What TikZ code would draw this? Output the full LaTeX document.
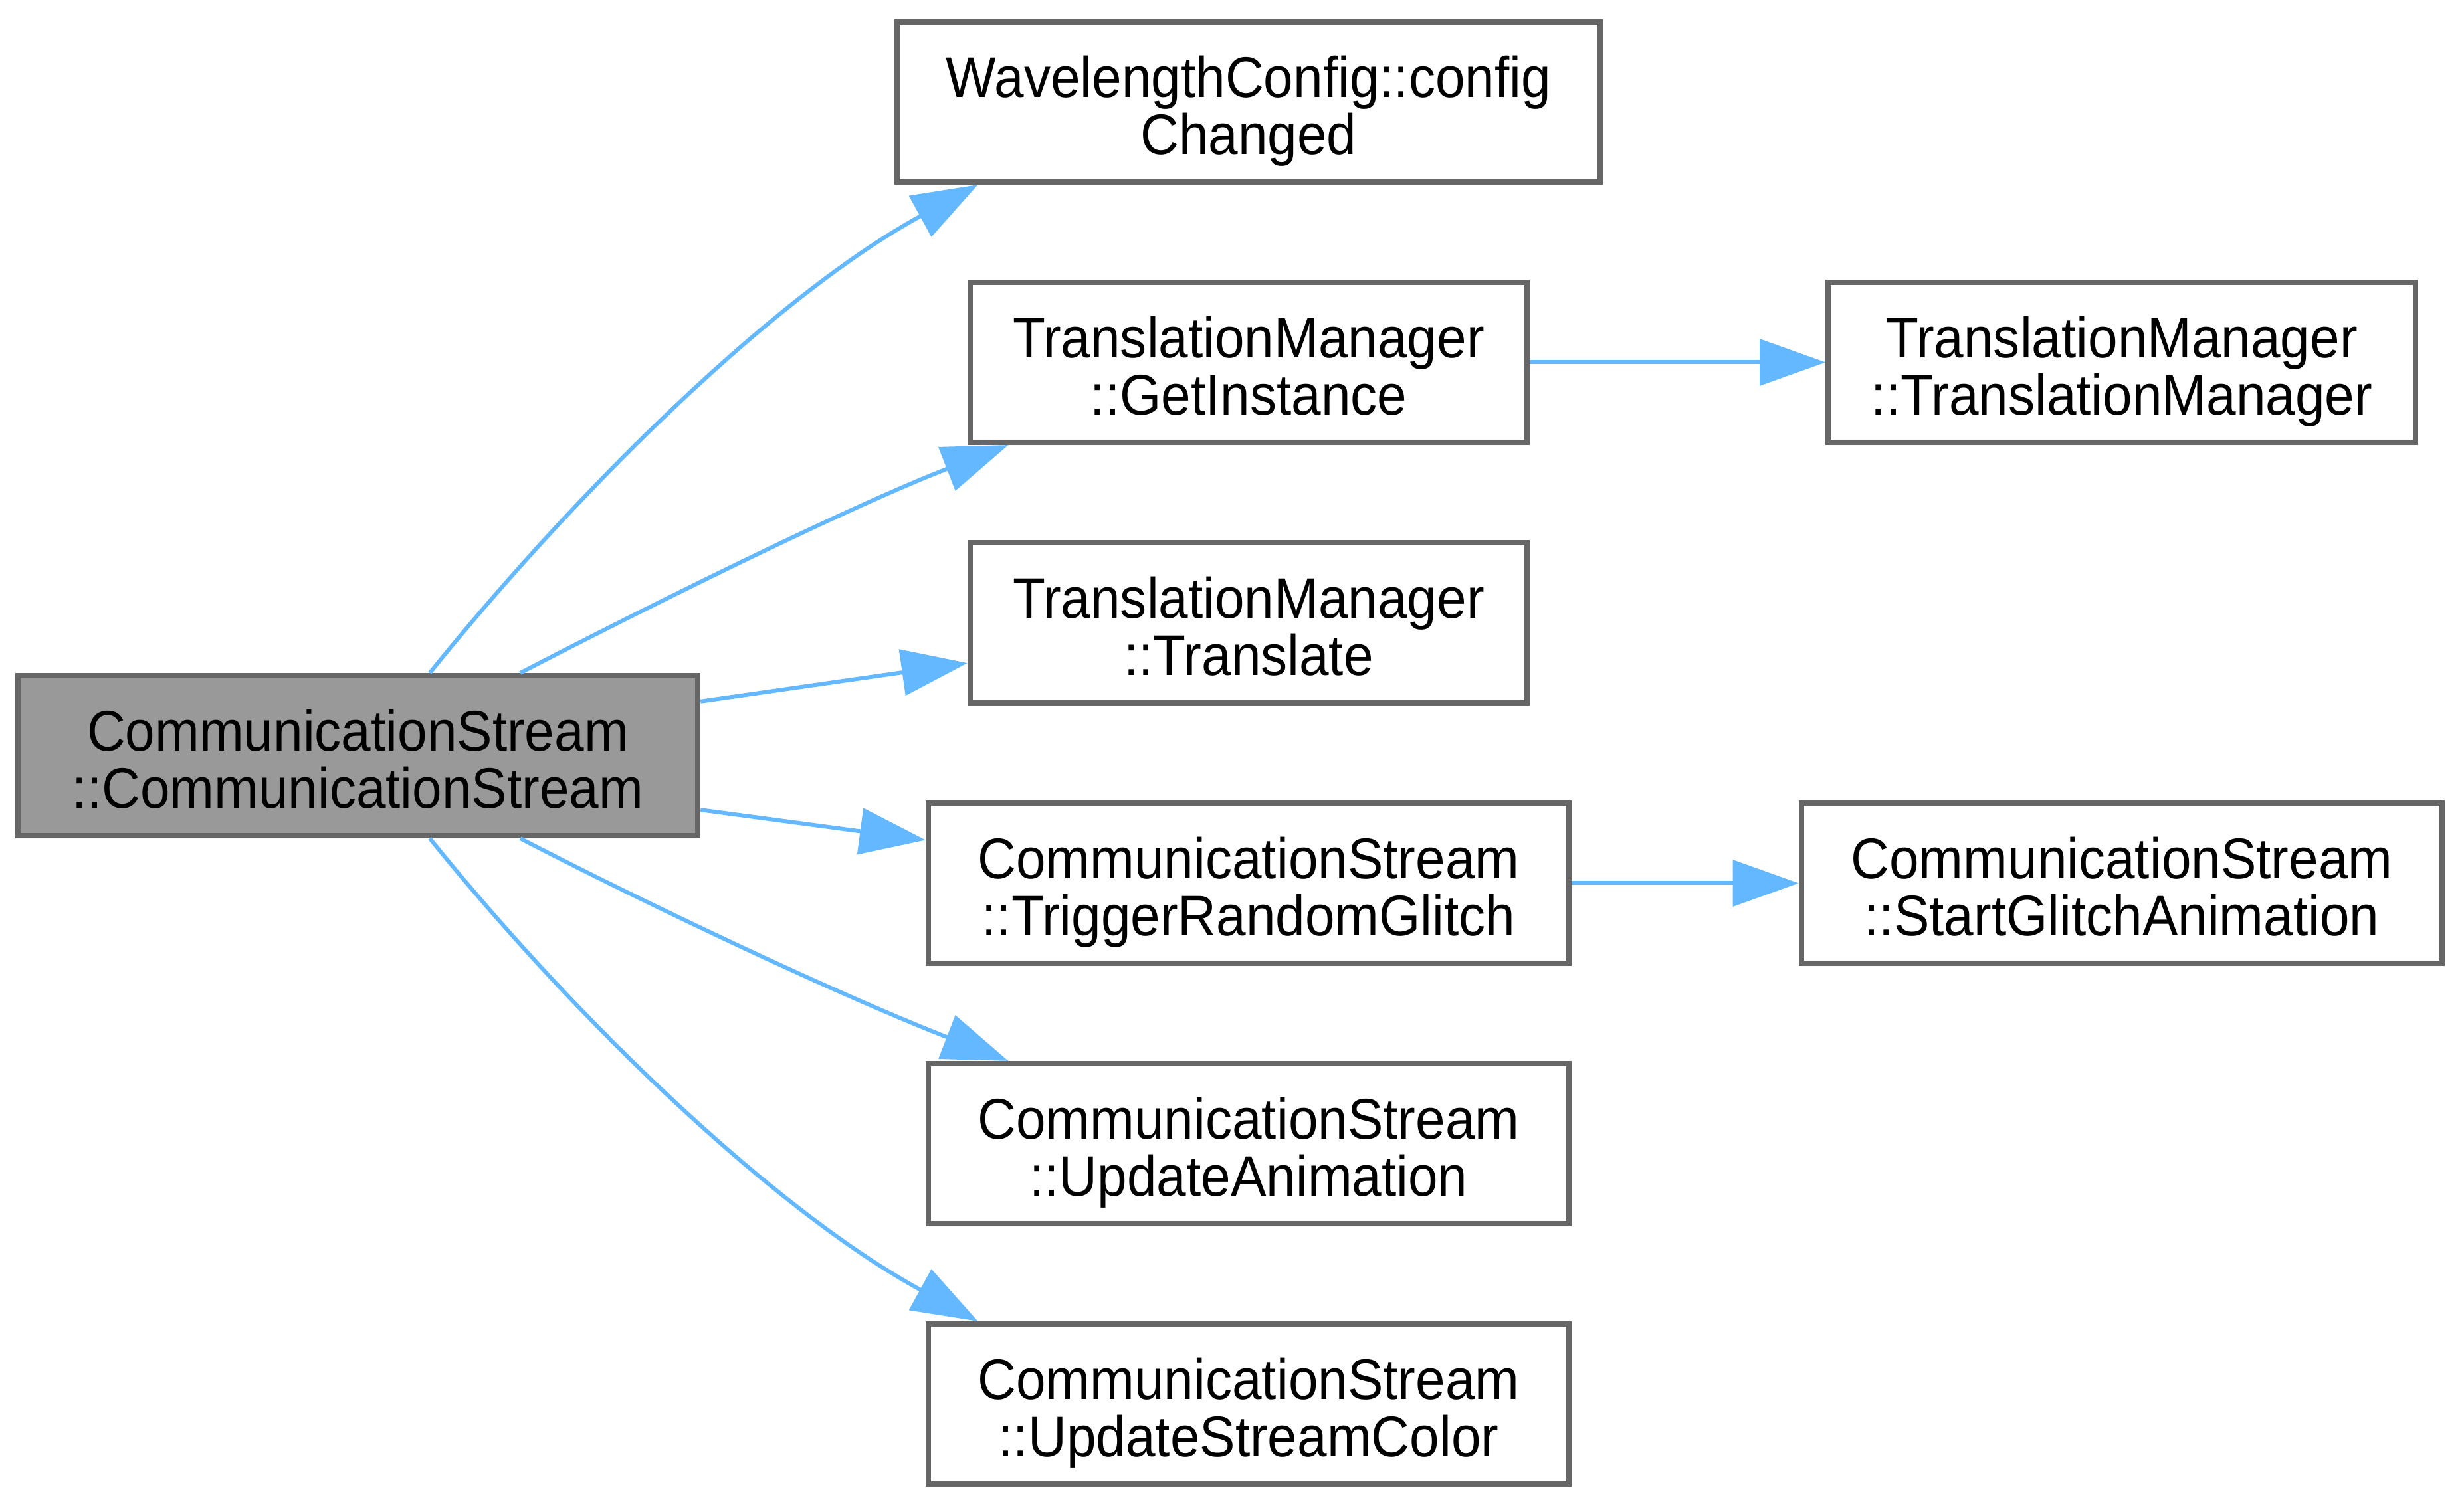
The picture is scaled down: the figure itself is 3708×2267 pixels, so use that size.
\documentclass[tikz,border=0pt]{standalone}
\usepackage{fontspec}
\setmainfont{Liberation Sans}[FakeStretch=0.93]
\usetikzlibrary{arrows.meta}

\definecolor{edgeblue}{HTML}{63B8FF}
\definecolor{boxgray}{HTML}{666666}
\definecolor{maingray}{HTML}{999999}

\newcommand{\fnlabel}[2]{\rule{0pt}{9.7mm}#1\\#2\rule[-2.5mm]{0pt}{2.5mm}}

\begin{document}
\begin{tikzpicture}[x=0.01cm,y=0.01cm,
  fnbox/.style={draw=boxgray,line width=0.8mm,fill=white,inner sep=0pt,
    minimum height=24.1mm,align=center,
    font=\fontsize{24.5pt}{24.7pt}\selectfont},
  call/.style={draw=edgeblue,line width=0.6mm,
    -{Triangle[length=9.9mm,width=6.9mm]}}]

\useasboundingbox (0,0) rectangle (3708,2267);

% Caller
\node[fnbox,fill=maingray,minimum width=102.3mm] (main) at (538.5,1129.5)
  {\fnlabel{CommunicationStream}{::CommunicationStream}};

% Callees
\node[fnbox,minimum width=105.8mm] (wave) at (1879,2113.5)
  {\fnlabel{WavelengthConfig::config}{Changed}};
\node[fnbox,minimum width=83.8mm] (getinst) at (1879,1721.5)
  {\fnlabel{TranslationManager}{::GetInstance}};
\node[fnbox,minimum width=83.8mm] (translate) at (1879,1329.5)
  {\fnlabel{TranslationManager}{::Translate}};
\node[fnbox,minimum width=96.4mm] (glitch) at (1879,937.5)
  {\fnlabel{CommunicationStream}{::TriggerRandomGlitch}};
\node[fnbox,minimum width=96.4mm] (updanim) at (1879,545.5)
  {\fnlabel{CommunicationStream}{::UpdateAnimation}};
\node[fnbox,minimum width=96.4mm] (updcolor) at (1879,153.5)
  {\fnlabel{CommunicationStream}{::UpdateStreamColor}};

% Second level
\node[fnbox,minimum width=88.3mm] (tmctor) at (3193,1721.5)
  {\fnlabel{TranslationManager}{::TranslationManager}};
\node[fnbox,minimum width=96.4mm] (startglitch) at (3193,937.5)
  {\fnlabel{CommunicationStream}{::StartGlitchAnimation}};

% Calls
\draw[call] (main.49) .. controls +(220,273) and +(-307,-168) .. (wave.197);
\draw[call] (main.27) .. controls +(222,115) and +(-232,-90) .. (getinst.199);
\draw[call] (main.9) -- (translate);
\draw[call] (main.-9) -- (glitch);
\draw[call] (main.-27) .. controls +(222,-115) and +(-232,90) .. (updanim.161);
\draw[call] (main.-49) .. controls +(220,-273) and +(-307,168) .. (updcolor.163);
\draw[call] (getinst) -- (tmctor);
\draw[call] (glitch) -- (startglitch);

\end{tikzpicture}
\end{document}
